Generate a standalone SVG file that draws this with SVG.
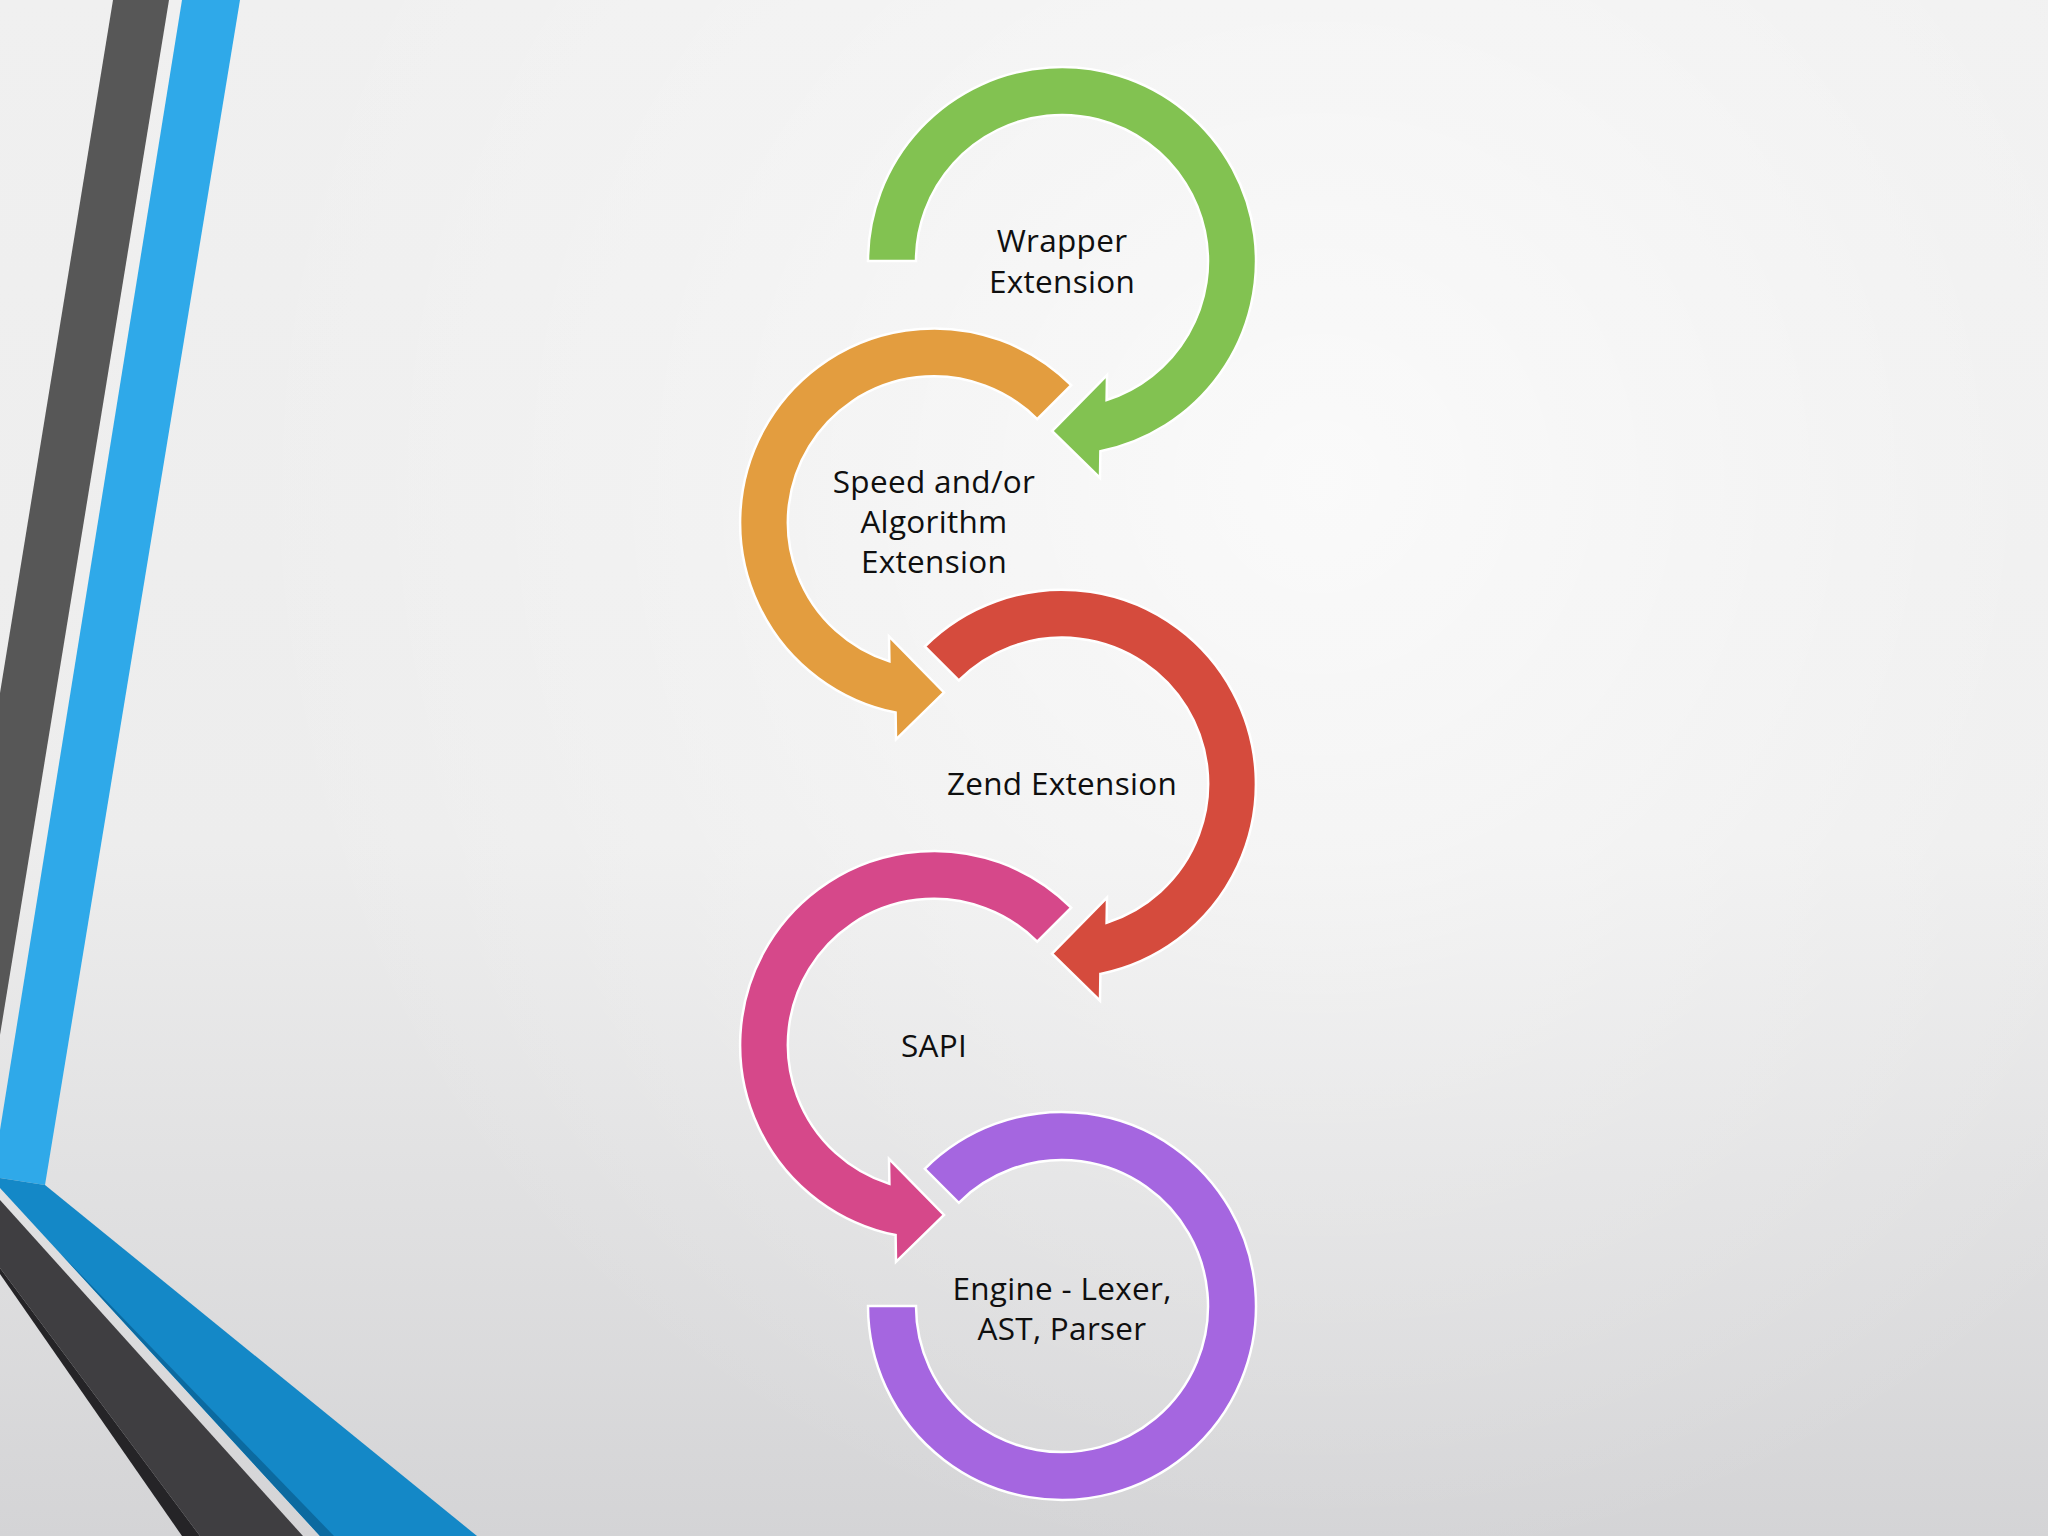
<svg xmlns="http://www.w3.org/2000/svg" width="2048" height="1536" viewBox="0 0 2048 1536">
  <defs>
    <linearGradient id="bgLin" x1="0" y1="0" x2="0" y2="1536" gradientUnits="userSpaceOnUse">
      <stop offset="0" stop-color="#f0f0f0"/>
      <stop offset="0.55" stop-color="#ededed"/>
      <stop offset="1" stop-color="#d4d4d6"/>
    </linearGradient>
    <radialGradient id="bgRad" cx="1320" cy="480" r="1100" gradientUnits="userSpaceOnUse">
      <stop offset="0" stop-color="#ffffff" stop-opacity="0.7"/>
      <stop offset="0.6" stop-color="#ffffff" stop-opacity="0.22"/>
      <stop offset="1" stop-color="#ffffff" stop-opacity="0"/>
    </radialGradient>
    <style>
      .arc { stroke: #ffffff; stroke-width: 2.5; stroke-linejoin: miter; }
      .green { fill: #82c251; }
      .orange { fill: #e39d3f; }
      .red { fill: #d54b3d; }
      .pink { fill: #d6488a; }
      .purple { fill: #a566e0; }
      .label { font-family: "Open Sans", "Noto Sans", "DejaVu Sans", sans-serif; font-size: 31.5px; fill: #0f0f0f; text-anchor: middle; letter-spacing: 0.3px; }
    </style>
  </defs>

  <!-- background -->
  <rect x="0" y="0" width="2048" height="1536" fill="url(#bgLin)"/>
  <rect x="0" y="0" width="2048" height="1536" fill="url(#bgRad)"/>

  <!-- left decoration -->
  <g id="decoration">
    <polygon points="113,0 169,0 0,1035 0,693" fill="#575757"/>
    <polygon points="182,0 240,0 45,1185 0,1178 0,1130" fill="#2fa9e9"/>
    <polygon points="0,1178 45,1185 477,1536 320,1536 0,1188" fill="#1488c7"/>
    <polygon points="60,1253 320,1536 334,1536" fill="#0c6aa0"/>
    <polygon points="0,1200 303,1536 200,1536 0,1268" fill="#3f3e41"/>
    <polygon points="0,1268 200,1536 182,1536 0,1274" fill="#252427"/>
  </g>

  <g id="node-wrapper">
    <path class="arc green" d="M 868 261 A 194 194 0 1 1 1100.4 451.2 L 1100 478 L 1052 431 L 1107 375 L 1106.6 400 A 146 146 0 1 0 916 261 Z"/>
    <text class="label" x="1062" y="252">Wrapper</text>
    <text class="label" x="1062" y="293">Extension</text>
  </g>

  <g id="node-speed">
    <path class="arc orange" d="M 1071.2 385.2 A 194 194 0 1 0 895.6 712.6 L 896 739.4 L 944 692.4 L 889 636.4 L 889.4 661.4 A 146 146 0 1 1 1037.2 419.2 Z"/>
    <text class="label" x="934" y="493">Speed and/or</text>
    <text class="label" x="934" y="533">Algorithm</text>
    <text class="label" x="934" y="573">Extension</text>
  </g>

  <g id="node-zend">
    <path class="arc red" d="M 924.8 646.5 A 194 194 0 1 1 1100.4 973.9 L 1100 1000.7 L 1052 953.7 L 1107 897.7 L 1106.6 922.7 A 146 146 0 1 0 958.8 680.5 Z"/>
    <text class="label" x="1062" y="795">Zend Extension</text>
  </g>

  <g id="node-sapi">
    <path class="arc pink" d="M 1071.2 907.7 A 194 194 0 1 0 895.6 1235.1 L 896 1261.9 L 944 1214.9 L 889 1158.9 L 889.4 1183.9 A 146 146 0 1 1 1037.2 941.7 Z"/>
    <text class="label" x="934" y="1057">SAPI</text>
  </g>

  <g id="node-engine">
    <path class="arc purple" d="M 924.8 1168.8 A 194 194 0 1 1 868 1306 L 916 1306 A 146 146 0 1 0 958.8 1202.8 Z"/>
    <text class="label" x="1062" y="1300">Engine - Lexer,</text>
    <text class="label" x="1062" y="1340">AST, Parser</text>
  </g>

  <g id="connectors"/>
</svg>
